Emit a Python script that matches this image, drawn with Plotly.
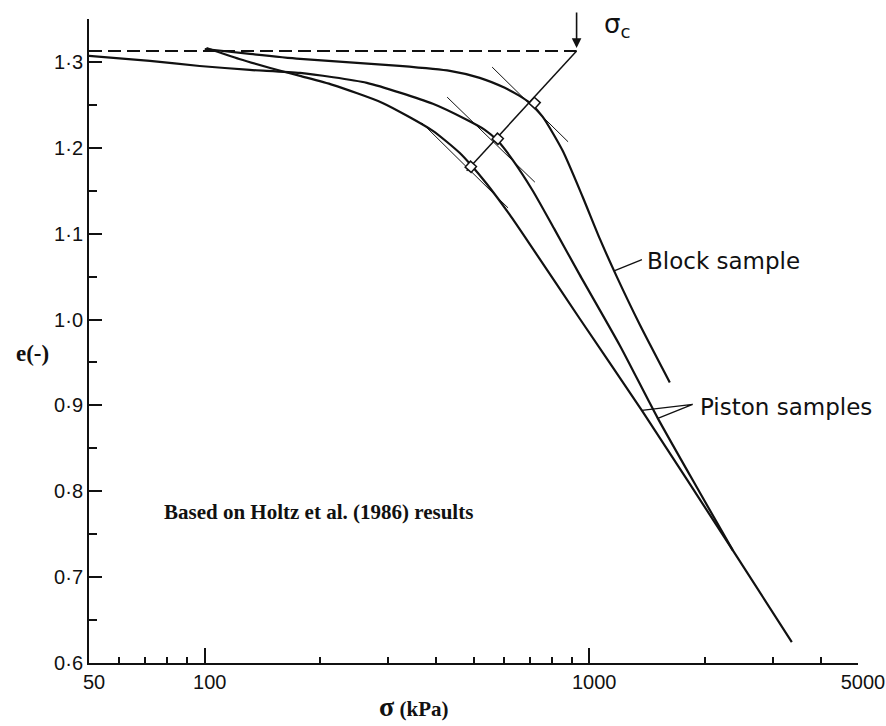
import numpy as np
import plotly.graph_objects as go

# --- oedometer curves: vertical effective stress (kPa) vs void ratio e ---
block_sigma = [100, 131, 177, 321, 434, 519, 603, 659, 700, 757, 853, 961, 1065, 1179,
               1353, 1620]
block_e = [1.3151, 1.3093, 1.3035, 1.2953, 1.2895, 1.2814, 1.2698, 1.2605, 1.2523, 1.2360,
           1.1965, 1.1430, 1.0942, 1.0500, 0.9942, 0.9267]

piston1_sigma = [50, 72, 97, 131, 177, 264, 392, 480, 535, 578, 632, 713, 813, 944, 1201,
                 1508, 1937, 2361]
piston1_e = [1.307, 1.3012, 1.2953, 1.2907, 1.2872, 1.2756, 1.2512, 1.2326, 1.2209, 1.2081,
             1.1860, 1.15, 1.1047, 1.0523, 0.9698, 0.8849, 0.7988, 0.7314]

piston2_sigma = [101, 123, 148, 177, 215, 290, 392, 460, 492, 541, 621, 713, 944, 1370,
                 2361, 3364]
piston2_e = [1.3163, 1.3035, 1.2930, 1.2837, 1.2733, 1.2523, 1.2198, 1.1942, 1.1802, 1.1581,
             1.1221, 1.0826, 1.0012, 0.8942, 0.7314, 0.6244]

# preconsolidation construction
sigma_c = 927
e_c = 1.3128
diag_sigma = [sigma_c, 480]
diag_e = [e_c, 1.1733]
corner_sigma = [721, 578, 492]
corner_e = [1.2523, 1.2105, 1.1779]
tangents = [
    ([559, 881], [1.294, 1.207]),
    ([427, 722], [1.259, 1.160]),
    ([367, 615], [1.229, 1.130]),
]

# axis ticks
x_major = [50, 100, 1000, 5000]
x_major_text = ["50", "100", "1000", "5000"]
x_minor = [60, 70, 80, 90, 200, 300, 400, 500, 600, 700, 800, 900, 2000, 3000, 4000]
y_major = [0.6, 0.7, 0.8, 0.9, 1.0, 1.1, 1.2, 1.3]
y_major_text = ["0·6", "0·7", "0·8", "0·9", "1·0", "1·1", "1·2", "1·3"]
y_minor = [0.65, 0.75, 0.85, 0.95, 1.05, 1.15, 1.25, 1.35]

INK = "#111111"
fig = go.Figure()

fig.add_trace(go.Scatter(x=[50, sigma_c], y=[e_c, e_c], mode="lines",
                         line=dict(color=INK, width=2, dash="13px,6px")))
fig.add_trace(go.Scatter(x=diag_sigma, y=diag_e, mode="lines",
                         line=dict(color=INK, width=1.5)))
for xs, ys in tangents:
    fig.add_trace(go.Scatter(x=xs, y=ys, mode="lines", line=dict(color=INK, width=1)))

for xs, ys in [(block_sigma, block_e), (piston1_sigma, piston1_e), (piston2_sigma, piston2_e)]:
    fig.add_trace(go.Scatter(x=xs, y=ys, mode="lines",
                             line=dict(color=INK, width=2.2, shape="spline", smoothing=0.6)))

fig.add_trace(go.Scatter(x=corner_sigma, y=corner_e, mode="markers",
                         marker=dict(symbol="square", size=8, angle=42, color="white",
                                     line=dict(color=INK, width=1.5))))

# label leader lines
fig.add_trace(go.Scatter(x=[1165, 1371], y=[1.057, 1.0698], mode="lines",
                         line=dict(color=INK, width=1.3)))
fig.add_trace(go.Scatter(x=[1370, 1858, 1508], y=[0.8942, 0.9012, 0.8849], mode="lines",
                         line=dict(color=INK, width=1.3)))

lx = np.log10
annotations = [
    dict(x=lx(1393), y=1.0686, xref="x", yref="y", text="Block sample", showarrow=False,
         xanchor="left", yanchor="middle", font=dict(family="DejaVu Sans", size=23, color=INK)),
    dict(x=lx(1914), y=0.8977, xref="x", yref="y", text="Piston samples", showarrow=False,
         xanchor="left", yanchor="middle", font=dict(family="DejaVu Sans", size=23, color=INK)),
    dict(x=lx(sigma_c), y=1.3163, xref="x", yref="y", text="", showarrow=True,
         ax=0, ay=-37, arrowhead=2, arrowsize=1.2, arrowwidth=1.6, arrowcolor=INK),
    dict(x=lx(1078), y=1.343, xref="x", yref="y", text="σ<sub>c</sub>", showarrow=False,
         xanchor="left", yanchor="middle", font=dict(family="DejaVu Sans", size=26, color=INK)),
    dict(x=-0.073, y=0.481, xref="paper", yref="paper", text="<b>e(-)</b>", showarrow=False,
         xanchor="center", yanchor="middle",
         font=dict(family="Liberation Serif", size=23, color=INK)),
    dict(x=0.3745, y=-0.068, xref="paper", yref="paper",
         text="<b><span style='font-size:28px'>σ</span> (kPa)</b>", showarrow=False,
         xanchor="left", yanchor="middle",
         font=dict(family="Liberation Serif", size=21, color=INK)),
    dict(x=0.095, y=0.235, xref="paper", yref="paper",
         text="<b>Based on Holtz et al. (1986) results</b>", showarrow=False,
         xanchor="left", yanchor="middle",
         font=dict(family="Liberation Serif", size=21, color=INK)),
]

tickfont = dict(family="Liberation Sans, Arial, sans-serif", size=20, color=INK)
fig.update_layout(
    width=886, height=726,
    margin=dict(l=89, r=28, t=19, b=63, autoexpand=False),
    paper_bgcolor="white", plot_bgcolor="white",
    showlegend=False,
    annotations=annotations,
    xaxis=dict(type="log", range=[lx(50), lx(5000)], showgrid=False, zeroline=False,
               automargin=False,
               showline=True, linecolor=INK, linewidth=2,
               tickmode="array", tickvals=x_major, ticktext=x_major_text, ticklabelshift=5,
               ticks="inside", ticklen=15, tickwidth=2, tickcolor=INK, tickfont=tickfont,
               minor=dict(tickmode="array", tickvals=x_minor, ticks="inside", ticklen=6,
                          tickwidth=2, tickcolor=INK, showgrid=False)),
    yaxis=dict(range=[0.6, 1.35], showgrid=False, zeroline=False,
               automargin=False,
               showline=True, linecolor=INK, linewidth=2,
               tickmode="array", tickvals=y_major, ticktext=y_major_text,
               ticks="inside", ticklen=13, tickwidth=2, tickcolor=INK, tickfont=tickfont,
               minor=dict(tickmode="array", tickvals=y_minor, ticks="inside", ticklen=8,
                          tickwidth=2, tickcolor=INK, showgrid=False)),
)

fig.write_html("out.html")
